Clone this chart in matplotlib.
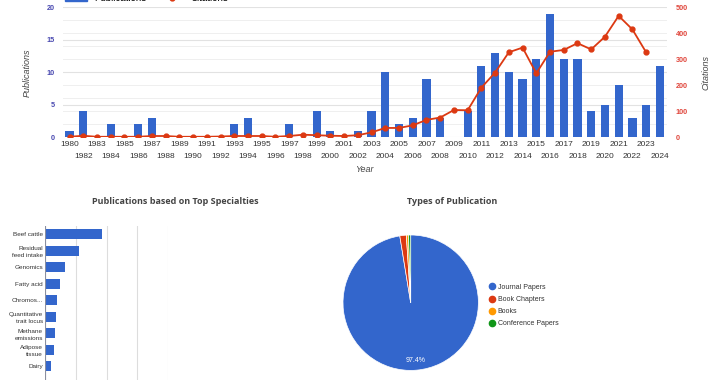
import numpy as np
import matplotlib.pyplot as plt
from matplotlib.lines import Line2D

plt.rcParams['font.family'] = ['Liberation Sans', 'DejaVu Sans']

# Veri: yillara gore yayin ve atif sayilari (1981 yok)
years = [1980] + list(range(1982, 2025))
publications = [1, 4, 0, 2, 0, 2, 3, 0, 0, 0, 0, 0, 2, 3, 0, 0, 2, 0, 4, 1, 0, 1,
                4, 10, 2, 3, 9, 3, 0, 4, 11, 13, 10, 9, 12, 19, 12, 12, 4, 5, 8, 3, 5, 11]
citations = [2, 6, 2, 2, 2, 2, 5, 5, 2, 2, 2, 3, 5, 5, 5, 2, 5, 10, 8, 6, 5, 8,
             19, 36, 36, 46, 67, 76, 105, 104, 191, 249, 327, 345, 246, 329, 336, 362,
             338, 387, 467, 415, 327, np.nan]

specialties = ['Beef cattle', 'Residual\nfeed intake', 'Genomics', 'Fatty acid', 'Chromos...',
               'Quantitative\ntrait locus', 'Methane\nemissions', 'Adipose\ntissue', 'Dairy']
specialty_counts = [37, 22, 13, 9.5, 8, 7, 6.3, 5.7, 4]

pub_types = ['Journal Papers', 'Book Chapters', 'Books', 'Conference Papers']
pub_type_counts = [189, 3, 1, 1]

BLUE = '#3366cc'
RED = '#dc3912'
pie_colors = [BLUE, RED, '#ff9900', '#109618']

fig = plt.figure(figsize=(7.2, 3.8), dpi=100)

# --- Ust grafik: yayin + atif ---
W, H = 720, 380
ax = fig.add_axes([62.7 / W, 1 - 137.3 / H, 604 / W, 130 / H])
x = np.arange(len(years))
ax.bar(x, publications, width=0.6, color=BLUE, zorder=3)
ax.set_xlim(-0.5, len(years) - 0.5)
ax.set_ylim(0, 20)
ax.set_yticks([0, 5, 10, 15, 20])
# sag eksenin 50'lik cizgileri (20 yayin = 500 atif)
ax.set_yticks([2, 4, 6, 8, 12, 14, 16, 18], minor=True)
ax.grid(axis='y', which='major', color='#e2e2e2', linewidth=0.8, zorder=0)
ax.grid(axis='y', which='minor', color='#efefef', linewidth=0.7, zorder=0)
for s in ax.spines.values():
    s.set_visible(False)
ax.tick_params(axis='y', which='both', length=0, labelsize=5.2, labelcolor='#4848b0', pad=5.5)
for t in ax.get_yticklabels():
    t.set_fontweight('bold')
# iki sirali yil etiketleri
ax.set_xticks(x[::2])
ax.set_xticklabels([str(years[i]) for i in x[::2]], fontsize=6, color='#333333')
ax.set_xticks(x[1::2], minor=True)
ax.set_xticklabels([str(years[i]) for i in x[1::2]], minor=True, fontsize=6, color='#333333')
ax.tick_params(axis='x', which='major', length=0, pad=3)
ax.tick_params(axis='x', which='minor', length=0, pad=11.5)
ax.set_xlabel('Year', fontsize=6.5, style='italic', color='#444444', labelpad=3.5)
ax.set_ylabel('Publications', fontsize=6.5, style='italic', color='#444444', labelpad=11)

ax2 = ax.twinx()
ax2.plot(x, citations, color=RED, linewidth=1.3, marker='o', markersize=3.5, zorder=4)
ax2.set_ylim(0, 500)
ax2.set_yticks([0, 100, 200, 300, 400, 500])
for s in ax2.spines.values():
    s.set_visible(False)
ax2.tick_params(axis='y', length=0, labelsize=5.2, labelcolor='#e0463c', pad=6.5)
for t in ax2.get_yticklabels():
    t.set_fontweight('bold')
ax2.set_ylabel('Citations', fontsize=6.5, style='italic', color='#444444', labelpad=10)

handles = [plt.Rectangle((0, 0), 1, 1, color=BLUE),
           Line2D([], [], color=RED, marker='o', markersize=3.5, linewidth=1.3)]
ax.legend(handles, ['Publications', 'Citations'], loc='center left',
          bbox_to_anchor=(-0.002, 1.07), ncol=2, frameon=False, fontsize=7,
          handlelength=2.2, columnspacing=1.5, borderaxespad=0)

# --- Alt sol: uzmanlik alanlari ---
axb = fig.add_axes([45 / W, 1 - 391 / H, 123 / W, 165 / H])
yb = np.arange(len(specialties))
axb.barh(yb, specialty_counts, height=0.6, color=BLUE, zorder=3)
axb.set_ylim(len(specialties) + 0.5, -0.5)
axb.set_xlim(0, 80)
axb.set_xticks([0, 20, 40, 60, 80])
axb.set_xticklabels([])
axb.grid(axis='x', color='#dddddd', linewidth=0.8, zorder=0)
for s in axb.spines.values():
    s.set_visible(False)
axb.axvline(0, color='#8a8fa0', linewidth=0.8, zorder=4)
axb.set_yticks(yb)
axb.set_yticklabels(specialties, fontsize=4.6, color='#333333', linespacing=1.5)
axb.tick_params(length=0, pad=1.5)
fig.text(175 / W, 1 - 201 / H, 'Publications based on Top Specialties', ha='center', va='center',
         fontsize=6.5, fontweight='bold', color='#444444', family='Open Sans')

# --- Alt sag: yayin turleri ---
r = 67.7
cx, cy = 410.7, 302.7
axp = fig.add_axes([(cx - r) / W, 1 - (cy + r) / H, 2 * r / W, 2 * r / H])
wedges, texts, autotexts = axp.pie(
    pub_type_counts, colors=pie_colors, startangle=90, counterclock=False,
    autopct=lambda p: f'{p:.1f}%' if p > 5 else '', pctdistance=0.85,
    wedgeprops=dict(edgecolor='white', linewidth=0.5),
    textprops=dict(color='white', fontsize=5))
axp.set_xlim(-1, 1)
axp.set_ylim(-1, 1)
fig.text(452 / W, 1 - 201 / H, 'Types of Publication', ha='center', va='center',
         fontsize=6.5, fontweight='bold', color='#444444', family='Open Sans')

leg_handles = [Line2D([], [], linestyle='none', marker='o', markersize=4.5,
                      markerfacecolor=c, markeredgecolor=c) for c in pie_colors]
fig.legend(leg_handles, pub_types, loc='upper left', bbox_to_anchor=(486 / W, 1 - 281 / H),
           frameon=False, fontsize=5, handlelength=1.0, handletextpad=0.3,
           labelspacing=0.75, borderaxespad=0, labelcolor='#333333')

fig.savefig('out.png', dpi=100)
